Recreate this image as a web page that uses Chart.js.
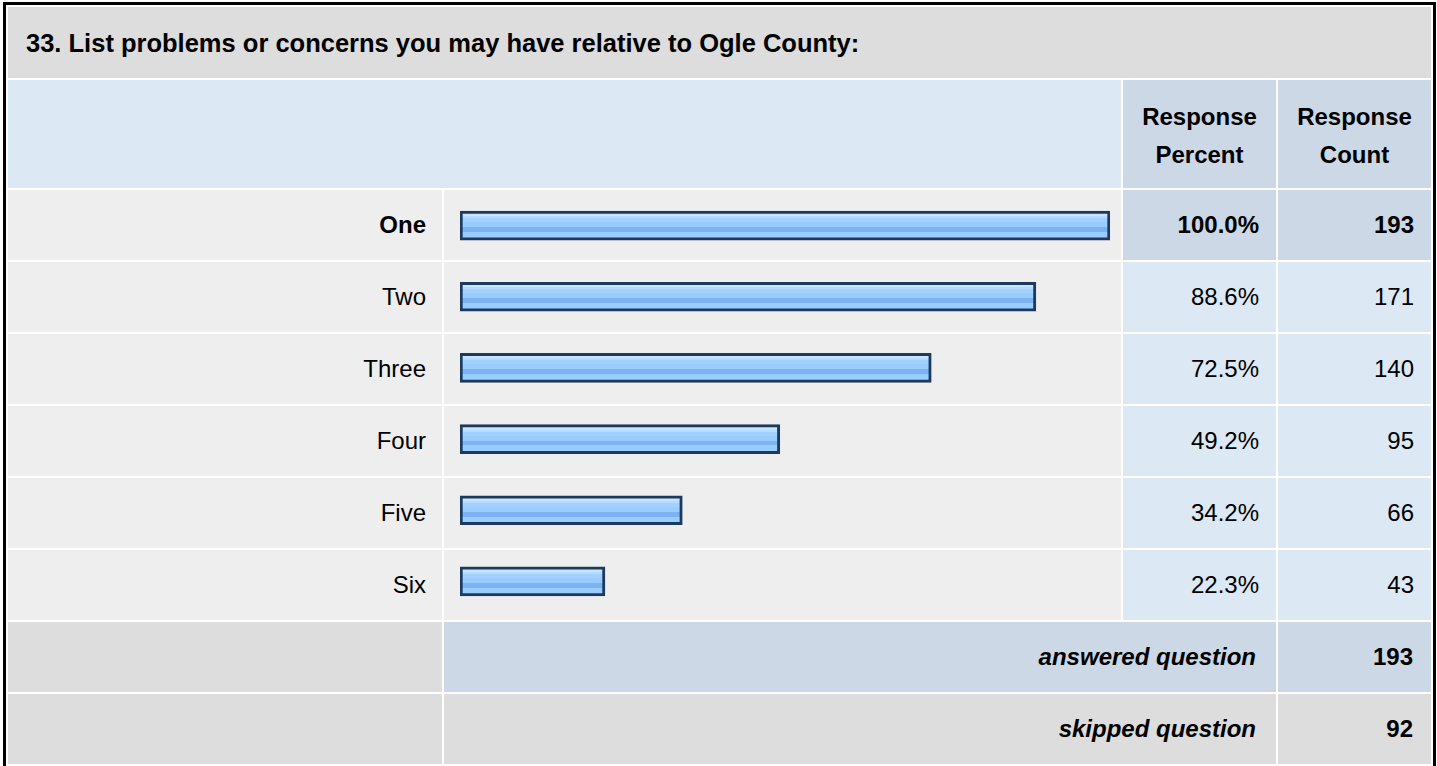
<!DOCTYPE html>
<html>
<head>
<meta charset="utf-8">
<title>Ogle County - Q33</title>
<script src="https://cdn.jsdelivr.net/npm/chart.js@4.4.1/dist/chart.umd.min.js"></script>
<style>
  html, body { margin: 0; padding: 0; background: #fff; }
  body { font-family: Arial, "Liberation Sans", Helvetica, sans-serif; color: #000; }
  #survey {
    position: absolute; left: 3px; top: 2px;
    border: 3px solid #000;
    padding: 2px;
    background: #fff;
    display: grid;
    grid-template-columns: 434px 677px 153px 153px;
    grid-template-rows: 71px 108px repeat(8, 70px);
    gap: 2px;
  }
  #survey > div { box-sizing: border-box; display: flex; align-items: center; font-size: 24px; }
  .title { grid-column: 1 / 5; background: #dddddd; font-weight: bold; font-size: 25.5px !important; padding-left: 18px; padding-top: 2px; }
  .hblank { grid-column: 1 / 3; background: #dde8f5; }
  .hcell { background: #ccd8e6; font-weight: bold; justify-content: center; text-align: center; line-height: 38px; padding-top: 4px; }
  .lbl { background: #eeeeee; justify-content: flex-end; padding-right: 16px; }
  .bar { background: #eeeeee; }
  .num { background: #dde8f5; justify-content: flex-end; padding-right: 17px; }
  .top { font-weight: bold; }
  .num.top { background: #ccd8e6; }
  .sumlbl { background: #dddddd; }
  .sumtxt { grid-column: 2 / 4; justify-content: flex-end; padding-right: 20px; font-weight: bold; font-style: italic; }
  .sumnum { justify-content: flex-end; padding-right: 18px; font-weight: bold; }
  .blue { background: #ccd8e6; }
  .gray { background: #dddddd; }
  /* over the bar column: rows One..Six */
  #survey > #barwrap { position: absolute; left: 438px; top: 185px; width: 677px; height: 430px; z-index: 1; display: block; }
</style>
</head>
<body>
<div id="survey"></div>

<script>
// values
let question = "33. List problems or concerns you may have relative to Ogle County:";
let categories = ["One", "Two", "Three", "Four", "Five", "Six"];
let response_percent = [100.0, 88.6, 72.5, 49.2, 34.2, 22.3];
let response_count = [193, 171, 140, 95, 66, 43];
let answered_question = 193;
let skipped_question = 92;

let survey = document.getElementById("survey");

function addCell (cls, html) {
  let d = document.createElement("div");
  d.className = cls;
  d.innerHTML = html;
  survey.appendChild(d);
  return d;
}

addCell("title", question);
addCell("hblank", "");
addCell("hcell", "Response<br>Percent");
addCell("hcell", "Response<br>Count");

// the biggest answer gets the bold row
let max_count = Math.max(...response_count);
for (let i = 0; i < categories.length; i++) {
  let top = response_count[i] === max_count ? " top" : "";
  addCell("lbl" + top, categories[i]);
  addCell("bar", "");
  addCell("num" + top, response_percent[i].toFixed(1) + "%");
  addCell("num" + top, response_count[i]);
}

addCell("sumlbl", "");
addCell("sumtxt blue", "answered question");
addCell("sumnum blue", answered_question);
addCell("sumlbl", "");
addCell("sumtxt gray", "skipped question");
addCell("sumnum gray", skipped_question);

// canvas sits over the bar column (absolute, so it does not move the cells)
let wrap = document.createElement("div");
wrap.id = "barwrap";
wrap.innerHTML = '<canvas id="myChart"></canvas>';
survey.appendChild(wrap);

const bar_thickness = 29;

// striped blue fill, like the old survey bars
function barFill (ctx) {
  let chart = ctx.chart;
  let y = chart.scales.y;
  if (!y || ctx.dataIndex === undefined) {
    return "#99ccff";
  }
  let center = y.getPixelForValue(ctx.dataIndex);
  if (!isFinite(center)) {
    return "#99ccff";
  }
  let top = center - bar_thickness / 2;
  let g = chart.ctx.createLinearGradient(0, top, 0, top + bar_thickness);
  let stops = [
    [0.00, "#c9e4ff"], [0.17, "#c9e4ff"],
    [0.17, "#b5dbff"], [0.24, "#b5dbff"],
    [0.24, "#a2d0ff"], [0.38, "#a2d0ff"],
    [0.38, "#99ccff"], [0.55, "#99ccff"],
    [0.55, "#7db3f2"], [0.72, "#7db3f2"],
    [0.72, "#99ccff"], [1.00, "#99ccff"]
  ];
  for (let s of stops) {
    g.addColorStop(s[0], s[1]);
  }
  return g;
}

let myChart = new Chart(
  document.getElementById("myChart"),
  {
    type: "bar",
    data: {
      labels: categories,
      datasets: [{
        data: response_percent,
        backgroundColor: barFill,
        borderColor: "#1c3a5e",
        borderWidth: 3,
        borderSkipped: false,
        barThickness: bar_thickness
      }]
    },
    options: {
      indexAxis: "y",
      responsive: true,
      maintainAspectRatio: false,
      animation: false,
      layout: { padding: { left: 16, right: 11, top: 0, bottom: 3 } },
      plugins: {
        legend: { display: false },
        tooltip: { enabled: false }
      },
      scales: {
        x: { display: false, min: 0, max: 100 },
        y: { display: false }
      }
    }
  }
);
</script>
</body>
</html>
